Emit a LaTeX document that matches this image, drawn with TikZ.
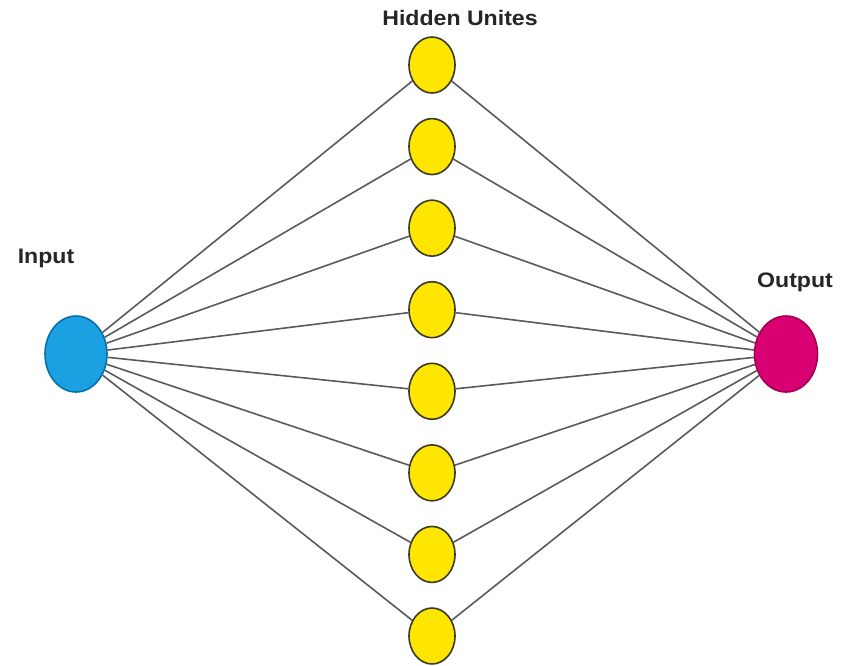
\documentclass[tikz,border=0pt]{standalone}
\usepackage{fontspec}
\setmainfont{Liberation Sans}
\usetikzlibrary{shapes.geometric}
\definecolor{inblue}{HTML}{1BA1E2}
\definecolor{inborder}{HTML}{0A6EAA}
\definecolor{outpink}{HTML}{D80073}
\definecolor{outborder}{HTML}{A50050}
\definecolor{hidyellow}{HTML}{FFE600}
\definecolor{hidborder}{HTML}{3A3A2A}
\definecolor{wire}{HTML}{5A5A5A}
\tikzset{
  unit/.style={ellipse, draw, line width=1.6pt, inner sep=0pt},
  inunit/.style={unit, fill=inblue, draw=inborder, minimum width=62pt, minimum height=76pt},
  outunit/.style={unit, fill=outpink, draw=outborder, minimum width=63pt, minimum height=76pt},
  hidunit/.style={unit, fill=hidyellow, draw=hidborder, minimum width=46pt, minimum height=56pt},
  wirestyle/.style={draw=wire, line width=1.6pt},
  lbl/.style={font=\fontsize{21}{24}\selectfont\bfseries, text=black!85, inner sep=0pt, xscale=1.1}
}
\begin{document}
\begin{tikzpicture}[x=1pt,y=-1pt]
  \useasboundingbox (0,0) rectangle (851,665);
  % input and output units
  \node[inunit] (in) at (76,354) {};
  \node[outunit] (out) at (786,354) {};
  % hidden layer
  \foreach \i in {1,...,8} {
    \node[hidunit] (h\i) at (432,{65+(\i-1)*81.57}) {};
  }
  % connections
  \foreach \i in {1,...,8} {
    \draw[wirestyle] (in) -- (h\i);
    \draw[wirestyle] (h\i) -- (out);
  }
  % labels
  \node[lbl] (lin) at (46,258) {Input};
  \node[lbl] (lout) at (795,282) {Output};
  \node[lbl] (lhid) at (460,18) {Hidden Unites};
\end{tikzpicture}
\end{document}
